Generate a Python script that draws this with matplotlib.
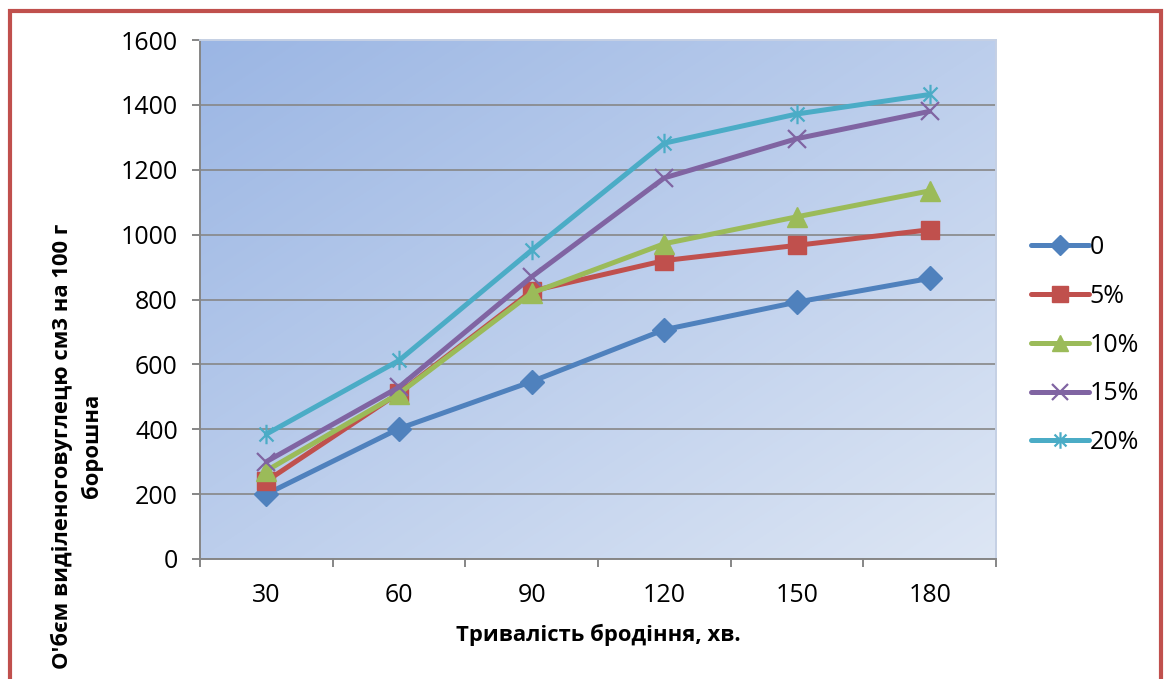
import numpy as np
import matplotlib
matplotlib.use("Agg")
import matplotlib.pyplot as plt
from matplotlib.path import Path
from matplotlib.patches import Rectangle
from matplotlib.colors import to_rgb

# Fermentation time, minutes
durations = [30, 60, 90, 120, 150, 180]

# CO2 released, cm3 per 100 g of flour, by additive share
series_labels = ["0", "5%", "10%", "15%", "20%"]
vol_0 = [200, 402, 547, 707, 792, 865]
vol_5 = [240, 512, 826, 920, 967, 1015]
vol_10 = [272, 510, 820, 972, 1055, 1135]
vol_15 = [300, 530, 870, 1175, 1296, 1380]
vol_20 = [385, 612, 952, 1282, 1372, 1432]

y_ticks = [0, 200, 400, 600, 800, 1000, 1200, 1400, 1600]
x_title = "Тривалість бродіння, хв."
y_title = "О'бєм виділеноговуглецю см3 на 100 г\nборошна"

plt.rcParams["font.family"] = ["Open Sans", "DejaVu Sans"]

W, H = 1168, 679
fig = plt.figure(figsize=(W / 100, H / 100), dpi=100)
fig.patch.set_facecolor("white")

# plot area in pixel coordinates
px_left, px_right, px_top, px_bottom = 200, 996, 40, 559
ax = fig.add_axes([px_left / W, 1 - px_bottom / H,
                   (px_right - px_left) / W, (px_bottom - px_top) / H])

# diagonal gradient fill of the plot area
c0 = np.array(to_rgb("#9BB6E4"))
c1 = np.array(to_rgb("#DDE6F4"))
gx, gy = np.meshgrid(np.linspace(0, 1, 300), np.linspace(0, 1, 200))
t = (gx + gy) / 2.0
grad = c0[None, None, :] * (1 - t[..., None]) + c1[None, None, :] * t[..., None]
ax.imshow(grad, extent=[0, 1, 0, 1], transform=ax.transAxes,
          aspect="auto", origin="upper", zorder=0, interpolation="bilinear")

star = Path([(0, -1), (0, 1), (-0.72, -0.72), (0.72, 0.72), (-0.72, 0.72), (0.72, -0.72)],
            [Path.MOVETO, Path.LINETO, Path.MOVETO, Path.LINETO, Path.MOVETO, Path.LINETO])

styles = [
    dict(color="#4F81BD", marker="D", ms=12),
    dict(color="#C0504D", marker="s", ms=13),
    dict(color="#9BBB59", marker="^", ms=14),
    dict(color="#8064A2", marker="x", ms=13, mew=1.6),
    dict(color="#4BACC6", marker=star, ms=14, mew=1.6),
]
all_series = [vol_0, vol_5, vol_10, vol_15, vol_20]
xpos = np.arange(len(durations))

for vals, lab, st in zip(all_series, series_labels, styles):
    ax.plot(xpos, vals, color=st["color"], lw=3.6, marker=st["marker"],
            ms=st["ms"], mew=st.get("mew", 1.0), mfc=st["color"], mec=st["color"],
            label=lab, zorder=3, solid_capstyle="round")

ax.set_xlim(-0.5, len(durations) - 0.5)
ax.set_ylim(0, 1600)
ax.set_yticks(y_ticks)
ax.set_yticklabels([str(v) for v in y_ticks])
ax.set_xticks(np.arange(-0.5, len(durations)), labels=[""] * (len(durations) + 1))
ax.set_xticks(xpos, labels=[str(d) for d in durations], minor=True)

ax.tick_params(axis="y", which="major", direction="out", length=6, width=1.4,
               color="#868686", labelsize=18, pad=10)
ax.tick_params(axis="x", which="major", direction="out", length=6, width=1.4,
               color="#868686")
ax.tick_params(axis="x", which="minor", length=0, labelsize=18, pad=17)

ax.yaxis.grid(True, color="#878787", lw=1.2, zorder=1)
ax.set_axisbelow(True)
ax.get_ygridlines()[-1].set_visible(False)

for side in ("left", "bottom"):
    ax.spines[side].set_color("#868686")
    ax.spines[side].set_linewidth(1.4)
for side in ("top", "right"):
    ax.spines[side].set_color("#C5D0E4")
    ax.spines[side].set_linewidth(1.4)

fig.text(598 / W, 1 - 635 / H, x_title,
         ha="center", va="center", fontsize=15.8, fontweight="bold")
fig.text(77 / W, 1 - 446 / H, y_title, rotation=90, ha="center", va="center",
         multialignment="center", fontsize=15.8, fontweight="bold", linespacing=1.45)

leg = fig.legend(loc="center left", bbox_to_anchor=(1021 / W, 1 - 345 / H),
                 frameon=False, fontsize=18, handlelength=2.3, handletextpad=0.05,
                 labelspacing=0.95, borderaxespad=0, markerscale=0.85)

# outer frame
fig.patches.append(Rectangle((9.5 / W, -0.05), (1161 - 9.5) / W, 1.05 - 11 / H,
                             transform=fig.transFigure, fill=False,
                             edgecolor="#C0504D", lw=3.0, zorder=10))

fig.savefig("out.png", dpi=100, facecolor="white")
